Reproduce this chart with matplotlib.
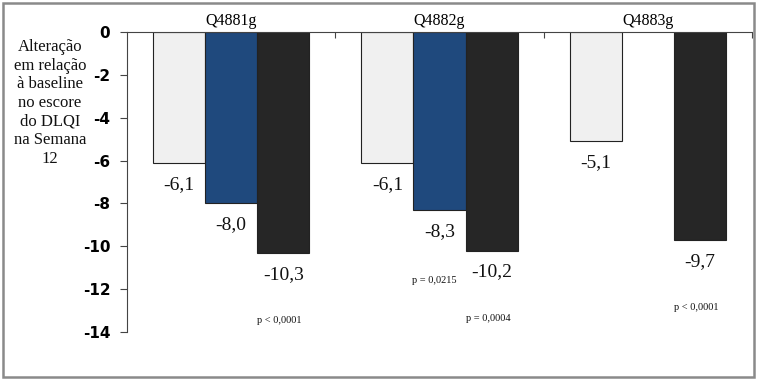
import matplotlib
matplotlib.use("Agg")
import matplotlib.pyplot as plt
from matplotlib.patches import Rectangle
import numpy as np

categories = ["Q4881g", "Q4882g", "Q4883g"]
series_a = [-6.1, -6.1, -5.1]          # light bars
series_b = [-8.0, -8.3, None]          # blue bars
series_c = [-10.3, -10.2, -9.7]        # black bars
value_labels_a = ["-6,1", "-6,1", "-5,1"]
value_labels_b = ["-8,0", "-8,3", None]
value_labels_c = ["-10,3", "-10,2", "-9,7"]
p_texts = ["p < 0,0001", "p = 0,0215", "p = 0,0004", "p < 0,0001"]
p_pos = [(0.23, -13.45), (0.975, -11.6), (1.235, -13.37), (2.23, -12.87)]
yticks = [0, -2, -4, -6, -8, -10, -12, -14]
ylabel = "Alteração\nem relação\nà baseline\nno escore\ndo DLQI\nna Semana\n12"

colors = ["#f0f0f0", "#1f497d", "#262626"]
W = 0.25

fig = plt.figure(figsize=(7.57, 3.80), dpi=100)
ax = fig.add_axes([127/757, 1-332/380, (752-127)/757, 300/380])

x = np.arange(len(categories))
serif = "Liberation Serif"
for off, vals, labs, col in [(-W, series_a, value_labels_a, colors[0]),
                             (0, series_b, value_labels_b, colors[1]),
                             (W, series_c, value_labels_c, colors[2])]:
    for xi, v, lab in zip(x, vals, labs):
        if v is None:
            continue
        ax.bar(xi + off, v, width=W, color=col, edgecolor="#222222", linewidth=0.8)
        ax.text(xi + off, v - 1.0, lab, ha="center", va="center",
                fontsize=14, family=serif, color="#111111")

for (px, py), t in zip(p_pos, p_texts):
    ax.text(px, py, t, ha="center", va="center", fontsize=7.5, family=serif, color="#111111")

ax.set_xlim(-0.5, 2.5)
ax.set_ylim(-14, 0)
ax.set_yticks(yticks)
ax.set_yticklabels([str(t) for t in yticks], fontsize=11, fontweight="bold",
                   family="DejaVu Sans")
ax.tick_params(axis="y", direction="out", length=5, width=0.8, pad=7, color="#444444")

ax.xaxis.tick_top()
ax.set_xticks(x)
ax.set_xticklabels(categories, fontsize=11.5, family=serif)
ax.tick_params(axis="x", which="major", length=0, pad=2)
ax.set_xticks([0.5, 1.5, 2.5], minor=True)
ax.tick_params(axis="x", which="minor", direction="in", length=4, width=0.8, color="#444444", top=True, bottom=False)

for s in ["right", "bottom"]:
    ax.spines[s].set_visible(False)
ax.spines["left"].set_color("#444444")
ax.spines["top"].set_color("#444444")
ax.spines["left"].set_linewidth(0.8)
ax.spines["top"].set_linewidth(0.8)

fig.text(50/757, 1-103/380, ylabel, ha="center", va="center", fontsize=12,
         family=serif, linespacing=1.22, color="#111111")

fig.patches.append(Rectangle((3/757, 3/380), 751/757, 374/380, transform=fig.transFigure,
                             fill=False, edgecolor="#8a8a8a", linewidth=1.8))

fig.savefig("out.png", dpi=100)
